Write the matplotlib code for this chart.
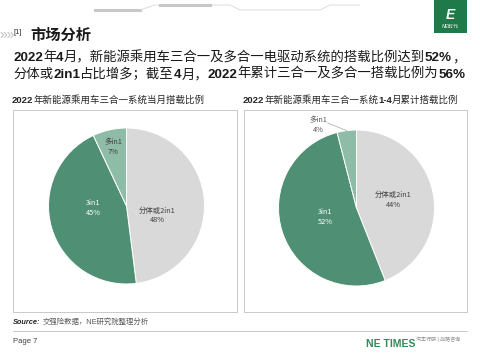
import matplotlib
matplotlib.use("Agg")
import matplotlib.pyplot as plt
from matplotlib.patches import Rectangle
from matplotlib.lines import Line2D
import numpy as np

plt.rcParams['font.family'] = ['Liberation Sans', 'Noto Sans CJK SC', 'DejaVu Sans']
CJK = ['Noto Sans CJK SC', 'DejaVu Sans']

# ---------------- data ----------------
categories = ["分体或2in1", "3in1", "多in1"]
month_share = [48, 45, 7]        # 2022年4月当月
ytd_share = [44, 52, 4]          # 2022年1-4月累计
left_title = "2022年新能源乘用车三合一系统当月搭载比例"
right_title = "2022年新能源乘用车三合一系统1-4月累计搭载比例"
section_title = "市场分析"
source_text = "交强险数据，NE研究院整理分析"

# ---------------- layout / style ----------------
W, H = 480, 360
colors = ["#d9d9d9", "#4f8f74", "#8fbca7"]
label_colors_left = ["#404040", "white", "#404040"]
label_colors_right = ["#404040", "white", "#595959"]
left_label_pos = [(0.39, -0.12), (-0.43, -0.03), (-0.17, 0.76)]
right_label_pos = [(0.47, 0.10), (-0.40, -0.12), (-0.49, 1.06)]

fig = plt.figure(figsize=(4.8, 3.6), dpi=100)
fig.patch.set_facecolor("white")
renderer = fig.canvas.get_renderer()


def fx(x):
    return x / W


def fy(y):
    return 1 - y / H


def runs(x, y, parts, size, color="#1a1a1a"):
    """Draw text runs (text, bold) one after another on a common baseline."""
    cur = x
    for txt, bold in parts:
        t = fig.text(fx(cur), fy(y), txt, fontsize=size, color=color,
                     fontweight="bold" if bold else "normal",
                     ha="left", va="baseline")
        bb = t.get_window_extent(renderer)
        cur += bb.width


# top decoration
fig.add_artist(Line2D([fx(95), fx(140)], [fy(10), fy(10)], color="#c8c8c8", lw=2.2))
fig.add_artist(Line2D([fx(140), fx(155), fx(230), fx(240)], [fy(10), fy(5), fy(5), fy(10)], color="#d8d8d8", lw=0.6))
fig.add_artist(Line2D([fx(160), fx(210)], [fy(5), fy(5)], color="#c8c8c8", lw=2.2))
fig.add_artist(Line2D([fx(240), fx(320), fx(330), fx(360)], [fy(10), fy(10), fy(5), fy(5)], color="#d8d8d8", lw=0.6))

# logo
fig.add_artist(Rectangle((fx(434), fy(33)), 33 / W, 33 / H, transform=fig.transFigure,
                         facecolor="#1f7a4a", edgecolor="none"))
fig.text(fx(450.5), fy(15), "E", fontsize=10, fontweight="bold", color="white",
         ha="center", va="center", style="italic")
fig.text(fx(450.5), fy(27), "NE时代", fontsize=3.6, color="white", ha="center", va="center",
         style="italic")

# section header
fig.text(fx(0), fy(35), "»»", fontsize=10, color="#c0c0c0", ha="left", va="center")
fig.text(fx(14), fy(32), "[1]", fontsize=5.5, color="#333333", ha="left", va="center")
fig.text(fx(30), fy(35.5), section_title, fontsize=11, fontweight="bold", color="#1a1a1a",
         ha="left", va="center")

# headline
hs = 9.6
runs(13, 61, [("2022", True), ("年", False), ("4", True), ("月，新能源乘用车三合一及多合一电驱动系统的搭载比例达到", False),
              ("52%", True), ("，", False)], hs)
runs(13, 78, [("分体或", False), ("2in1", True), ("占比增多；截至", False), ("4", True), ("月，", False),
              ("2022", True), ("年累计三合一及多合一搭载比例为", False), ("56%", True)], hs)

# chart titles
runs(12, 103, [("2022", True), (left_title[4:], False)], 6.8, color="#262626")
runs(243, 103, [("2022", True), (right_title[4:16], False), ("1-4", True), (right_title[19:], False)], 6.8,
     color="#262626")

# boxes
for (x0, x1) in [(13, 237), (244, 467)]:
    fig.add_artist(Rectangle((fx(x0), fy(312)), (x1 - x0) / W, (312 - 110) / H, transform=fig.transFigure,
                             facecolor="none", edgecolor="#c9c9c9", lw=0.7))


def draw_pie(cx, cy, r, values, label_pos, label_colors, leader_last=False):
    ax = fig.add_axes([fx(cx - r), fy(cy + r), 2 * r / W, 2 * r / H])
    wedges, _ = ax.pie(values, colors=colors, startangle=90, counterclock=False, radius=1,
                       wedgeprops=dict(edgecolor="white", linewidth=0.7))
    ax.set_xlim(-1, 1)
    ax.set_ylim(-1, 1)
    ax.set_aspect("equal")
    ax.axis("off")
    for i, (cat, v) in enumerate(zip(categories, values)):
        px, py = label_pos[i]
        ax.text(px, py, f"{cat}\n{v}%", fontsize=5.3, color=label_colors[i], ha="center", va="center",
                linespacing=1.3, clip_on=False, family=CJK)
    if leader_last:
        w = wedges[-1]
        mid = np.deg2rad((w.theta1 + w.theta2) / 2)
        lx, ly = label_pos[-1]
        ax.plot([lx + 0.12, np.cos(mid)], [ly + 0.03, np.sin(mid)], color="#a6a6a6", lw=0.5, clip_on=False)
    return ax


draw_pie(126.5, 206, 78, month_share, left_label_pos, label_colors_left)
draw_pie(356.5, 208, 78, ytd_share, right_label_pos, label_colors_right, leader_last=True)

# source
t = fig.text(fx(13), fy(324), "Source:", fontsize=5.3, fontweight="bold", style="italic",
             color="#262626", ha="left", va="baseline")
bb = t.get_window_extent(renderer)
fig.text(fx(13) + (bb.width + 2) / W, fy(324), source_text, fontsize=5.3, color="#595959",
         ha="left", va="baseline")

# footer
fig.add_artist(Line2D([fx(13), fx(467)], [fy(331), fy(331)], color="#bfbfbf", lw=0.6))
fig.text(fx(13), fy(343), "Page 7", fontsize=5.5, color="#404040", ha="left", va="baseline")
fig.text(fx(415), fy(347), "NE TIMES", fontsize=7.5, fontweight="bold", color="#2e8b57",
         ha="right", va="baseline")
fig.text(fx(416), fy(341), "汽车行研 | 战略咨询", fontsize=3.6, color="#8c8c8c", ha="left", va="baseline")

fig.savefig("out.png", dpi=100, facecolor="white")
